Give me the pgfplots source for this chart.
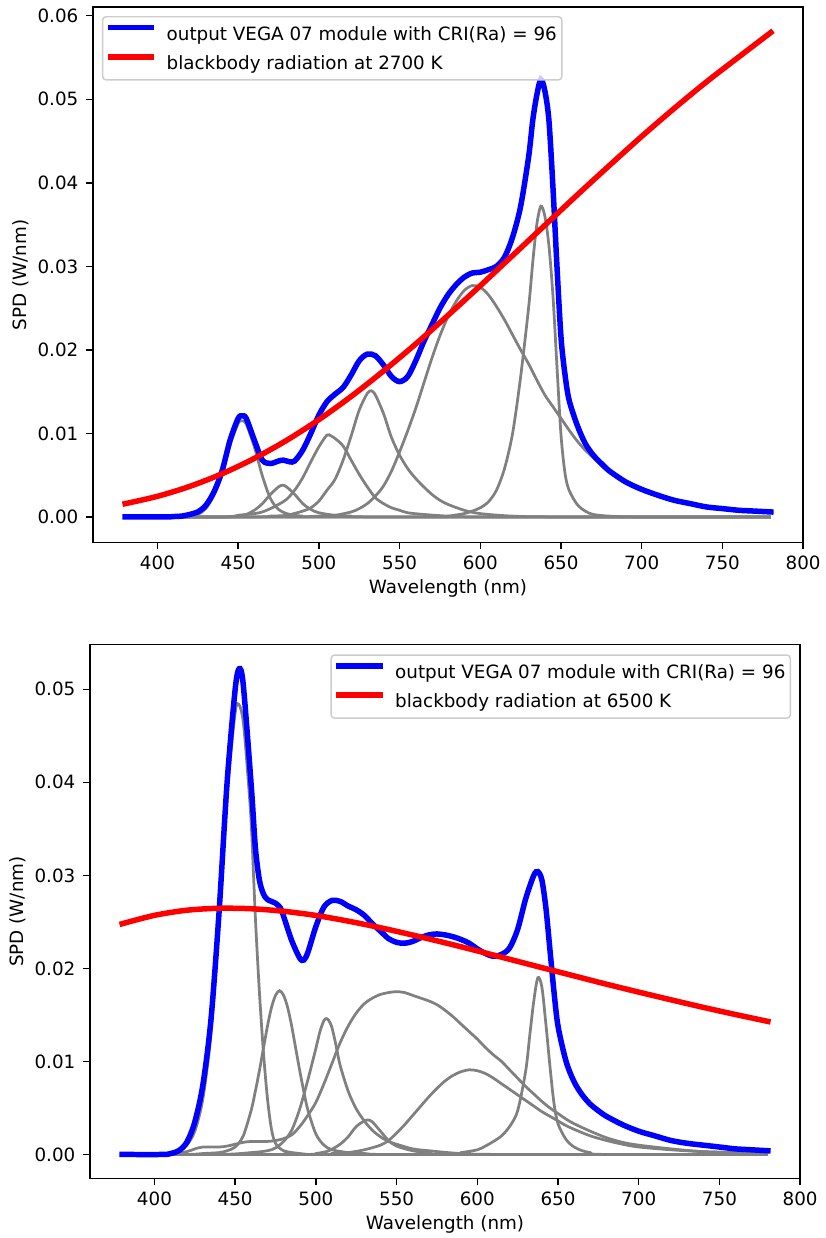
\documentclass[border=0pt]{standalone}
\usepackage{fontspec}
\setmainfont{DejaVu Sans}
\usepackage{pgfplots}
\pgfplotsset{compat=1.18}
\definecolor{mplblue}{RGB}{0,0,255}
\definecolor{mplred}{RGB}{255,0,0}
\definecolor{mplgray}{RGB}{128,128,128}
\pgfplotsset{
  spd/.style={
    scale only axis,
    width=511.92pt,
    xmin=360, xmax=800,
    xtick={400,450,500,550,600,650,700,750,800},
    tick pos=left,
    tick align=outside,
    major tick length=4.8pt,
    every tick/.style={black, line width=1.05pt},
    axis line style={line width=1.05pt},
    tick label style={font=\fontsize{13.2}{15}\selectfont},
    xticklabel style={inner ysep=4.6pt},
    yticklabel style={inner xsep=5.5pt, /pgf/number format/.cd, fixed, fixed zerofill, precision=2},
    /pgf/number format/assume math mode=true,
    scaled y ticks=false,
    xlabel={Wavelength (nm)},
    ylabel={SPD (W/nm)},
    every axis x label/.style={at={(axis description cs:0.5,0)}, anchor=center, yshift=-33pt, font=\fontsize{13.2}{15}\selectfont},
    every axis y label/.style={at={(axis description cs:0,0.5)}, anchor=center, xshift=-52pt, rotate=90, font=\fontsize{13.2}{15}\selectfont},
    legend cell align=left,
    legend image code/.code={\draw[#1] (0pt,4.8pt) -- (29.5pt,4.8pt);},
    legend style={
      draw=black!20, line width=1.05pt, rounded corners=2.5pt,
      fill=white, fill opacity=0.8, text opacity=1,
      inner xsep=3.6pt, inner ysep=5.9pt,
      row sep=8.26pt, column sep=9.1pt,
      font=\fontsize{13.2}{15}\selectfont,
      nodes={inner sep=0pt, text height=10.4pt, text depth=1.5pt},
    },
  },
  comp/.style={mplgray, line width=1.98pt, smooth, forget plot},
  spdline/.style={line width=3.96pt, smooth, line cap=rect},
}
\begin{document}
\begin{tikzpicture}
\path (0,0) rectangle (593.28pt,-891.36pt);
% ---------------- top: 2700 K ----------------
\begin{axis}[spd, at={(66.96pt,-390.96pt)}, anchor=south west, height=385.92pt,
  ymin=-0.00305, ymax=0.06105, ytick={0,0.01,0.02,0.03,0.04,0.05,0.06},
  legend style={at={(0,1)}, anchor=north west, xshift=6.5pt, yshift=-6.5pt}]
\addplot[comp] coordinates {(380,0) (410,0) (420,0.0001) (425,0.0003) (430,0.0010) (435,0.0026) (440,0.0050) (445,0.0086) (450,0.0112) (452.5,0.0115) (455,0.0111) (460,0.0084) (465,0.0049) (470,0.0022) (475,0.0009) (480,0.0004) (485,0.0002) (490,0.0001) (500,0) (780,0)};
\addplot[comp] coordinates {(380,0) (440,0) (450,0.0001) (455,0.0003) (460,0.0008) (465,0.0016) (470,0.0027) (475,0.0036) (477.5,0.0038) (480,0.0036) (485,0.0027) (490,0.0016) (495,0.0009) (500,0.0005) (510,0.0002) (520,0.0001) (540,0) (780,0)};
\addplot[comp] coordinates {(380,0) (440,0) (450,0.0002) (460,0.0004) (465,0.0006) (470,0.0010) (475,0.0015) (480,0.0021) (485,0.0032) (490,0.0047) (495,0.0066) (500,0.0084) (505,0.0098) (507.5,0.0097) (510,0.0094) (515,0.0085) (520,0.0068) (525,0.0051) (530,0.0036) (535,0.0023) (540,0.0016) (545,0.0011) (550,0.0008) (555,0.0005) (565,0.0003) (580,0.0001) (600,0) (780,0)};
\addplot[comp] coordinates {(380,0) (460,0) (470,0.0001) (480,0.0002) (490,0.0007) (495,0.0011) (500,0.0019) (505,0.0032) (510,0.0045) (515,0.0068) (520,0.0097) (525,0.0128) (530,0.0148) (532.5,0.0151) (535,0.0146) (540,0.0124) (545,0.0095) (550,0.0074) (555,0.0058) (560,0.0046) (565,0.0036) (570,0.0027) (575,0.0020) (580,0.0015) (590,0.0008) (600,0.0004) (620,0.0001) (650,0) (780,0)};
\addplot[comp] coordinates {(380,0) (480,0) (500,0.0001) (510,0.0002) (520,0.0006) (525,0.0010) (530,0.0016) (535,0.0025) (540,0.0037) (545,0.0055) (550,0.0078) (555,0.0103) (560,0.0130) (565,0.0160) (570,0.0190) (575,0.0217) (580,0.0240) (585,0.0258) (590,0.0271) (595,0.0277) (600,0.0275) (605,0.0266) (610,0.0252) (615,0.0236) (620,0.0218) (625,0.0200) (630,0.0183) (635,0.0164) (640,0.0146) (645,0.0132) (650,0.0118) (655,0.0104) (660,0.0091) (665,0.0080) (670,0.0071) (675,0.0062) (680,0.0054) (690,0.0041) (700,0.0032) (710,0.0025) (720,0.0019) (730,0.0015) (740,0.0012) (750,0.0009) (760,0.0007) (770,0.0006) (780,0.0005)};
\addplot[comp] coordinates {(380,0) (570,0) (580,0.0001) (590,0.0004) (595,0.0007) (600,0.0011) (605,0.0018) (610,0.0032) (615,0.0058) (620,0.0100) (625,0.0168) (630,0.0252) (632.5,0.0305) (635,0.0350) (637.5,0.0372) (640,0.0360) (642.5,0.0325) (645,0.0265) (647.5,0.0180) (650,0.0098) (652.5,0.0052) (655,0.0032) (660,0.0015) (665,0.0007) (670,0.0003) (680,0.0001) (700,0) (780,0)};
\addplot[spdline, mplblue] coordinates {(380,0) (405,0) (410,0.00005) (415,0.0001) (420,0.0003) (425,0.0006) (430,0.0014) (435,0.0030) (440,0.0055) (445,0.0092) (450,0.0118) (452.5,0.0121) (455,0.0118) (460,0.0092) (465,0.0068) (470,0.0064) (475,0.0067) (478,0.0068) (482,0.0066) (485,0.0067) (490,0.0080) (495,0.0100) (500,0.0122) (505,0.0138) (510,0.0147) (515,0.0155) (520,0.0170) (525,0.0187) (530,0.0195) (535,0.0193) (540,0.0182) (545,0.0168) (550,0.0162) (555,0.0168) (560,0.0187) (565,0.0210) (570,0.0230) (575,0.0250) (580,0.0266) (585,0.0278) (590,0.0287) (595,0.0292) (600,0.0293) (605,0.0296) (610,0.0300) (615,0.0311) (620,0.0335) (625,0.0372) (630,0.0432) (632.5,0.0475) (635,0.0505) (637.5,0.0524) (640,0.0510) (642.5,0.0475) (645,0.0395) (647.5,0.0300) (650,0.0215) (652.5,0.0170) (655,0.0140) (660,0.0110) (665,0.0088) (670,0.0074) (675,0.0064) (680,0.0055) (690,0.0042) (700,0.0033) (710,0.0026) (720,0.0020) (730,0.0016) (740,0.0012) (750,0.0010) (760,0.0008) (770,0.0007) (780,0.0006)};
\addlegendentry{output VEGA 07 module with CRI(Ra) = 96}
\addplot[spdline, mplred] coordinates {(380,0.00159) (400,0.00247) (420,0.00366) (440,0.00517) (460,0.00701) (480,0.00917) (500,0.01165) (520,0.01443) (540,0.01747) (560,0.02071) (580,0.02414) (600,0.02768) (620,0.03129) (640,0.03492) (660,0.03854) (680,0.04208) (700,0.04556) (720,0.04889) (740,0.05207) (760,0.05505) (780,0.05800)};
\addlegendentry{blackbody radiation at 2700 K}
\end{axis}
% ---------------- bottom: 6500 K ----------------
\begin{axis}[spd, at={(64.8pt,-849.6pt)}, anchor=south west, height=385.2pt,
  ymin=-0.00261, ymax=0.05483, ytick={0,0.01,0.02,0.03,0.04,0.05},
  legend style={at={(1,1)}, anchor=north east, xshift=-6.5pt, yshift=-7.2pt}]
\addplot[comp] coordinates {(380,0) (400,0) (410,0.0001) (415,0.0003) (420,0.0010) (425,0.0025) (430,0.0060) (435,0.0130) (440,0.0250) (445,0.0385) (450,0.0475) (452.5,0.0483) (455,0.0465) (457.5,0.0415) (460,0.0354) (462.5,0.0255) (465,0.0175) (467.5,0.0110) (470,0.0060) (472.5,0.0027) (475,0.0012) (480,0.0004) (490,0.0001) (500,0) (780,0)};
\addplot[comp] coordinates {(380,0) (420,0) (430,0.0001) (440,0.0002) (445,0.0004) (450,0.0008) (455,0.0020) (460,0.0048) (462.5,0.0068) (465,0.0090) (467.5,0.0114) (470,0.0138) (472.5,0.0158) (475,0.0171) (477.5,0.0176) (480,0.0171) (482.5,0.0158) (485,0.0138) (487.5,0.0114) (490,0.0090) (492.5,0.0068) (495,0.0048) (500,0.0022) (505,0.0010) (510,0.0005) (520,0.0002) (530,0.0001) (550,0) (780,0)};
\addplot[comp] coordinates {(380,0) (440,0) (460,0.0002) (470,0.0004) (475,0.0007) (480,0.0014) (485,0.0026) (490,0.0049) (495,0.0080) (500,0.0114) (502.5,0.0132) (505,0.0144) (506.5,0.0146) (508,0.0144) (510,0.0136) (512.5,0.0117) (515,0.0096) (520,0.0068) (525,0.0049) (530,0.0036) (535,0.0026) (540,0.0019) (545,0.0014) (550,0.0011) (560,0.0006) (570,0.0004) (590,0.0001) (620,0) (780,0)};
\addplot[comp] coordinates {(380,0) (490,0) (500,0.0001) (508,0.0004) (515,0.0011) (520,0.0019) (525,0.0030) (530,0.0036) (532.5,0.0037) (535,0.0035) (540,0.0025) (545,0.0015) (550,0.0009) (560,0.0004) (570,0.0002) (590,0) (780,0)};
\addplot[comp] coordinates {(380,0) (400,0) (410,0.0001) (420,0.0003) (425,0.0006) (430,0.0008) (440,0.0008) (445,0.0009) (450,0.0011) (455,0.0013) (460,0.0014) (470,0.0014) (475,0.0015) (480,0.0017) (485,0.0021) (490,0.0030) (495,0.0042) (500,0.0056) (505,0.0076) (510,0.0098) (515,0.0120) (520,0.0138) (525,0.0152) (530,0.0162) (535,0.0168) (540,0.0172) (545,0.0174) (550,0.0175) (555,0.0174) (560,0.0171) (565,0.0168) (570,0.0165) (575,0.0161) (580,0.0155) (585,0.0148) (590,0.0140) (595,0.0132) (600,0.0124) (605,0.0115) (610,0.0107) (615,0.0100) (620,0.0091) (625,0.0082) (630,0.0073) (635,0.0065) (640,0.0057) (645,0.0050) (650,0.0044) (655,0.0038) (660,0.0033) (670,0.0025) (680,0.0018) (690,0.0013) (700,0.0010) (720,0.0006) (740,0.0003) (760,0.0002) (780,0.0001)};
\addplot[comp] coordinates {(380,0) (500,0) (510,0.0001) (520,0.0002) (530,0.0005) (540,0.0010) (545,0.0015) (550,0.0023) (555,0.0032) (560,0.0042) (565,0.0052) (570,0.0062) (575,0.0071) (580,0.0079) (585,0.0085) (590,0.0089) (595,0.0091) (600,0.0090) (605,0.0087) (610,0.0082) (615,0.0076) (620,0.0070) (625,0.0064) (630,0.0058) (635,0.0052) (640,0.0046) (645,0.0041) (650,0.0036) (655,0.0031) (660,0.0027) (670,0.0020) (680,0.0015) (690,0.0011) (700,0.0008) (720,0.0005) (740,0.0003) (760,0.0002) (780,0.0001)};
\addplot[comp] coordinates {(380,0) (580,0) (590,0.0002) (600,0.0005) (605,0.0009) (610,0.0014) (615,0.0020) (620,0.0030) (625,0.0047) (630,0.0090) (632.5,0.0128) (635,0.0165) (637.5,0.0190) (640,0.0180) (642.5,0.0140) (645,0.0095) (647.5,0.0055) (650,0.0033) (655,0.0016) (660,0.0008) (665,0.0004) (670,0.0002) (680,0) (780,0)};
\addplot[spdline, mplblue] coordinates {(380,0) (405,0) (410,0.0001) (415,0.0004) (420,0.0013) (425,0.0035) (430,0.0075) (435,0.0145) (440,0.0260) (445,0.0400) (450,0.0500) (452.5,0.0522) (455,0.0505) (460,0.0395) (462.5,0.0330) (465,0.0295) (467.5,0.0280) (470,0.0274) (475,0.0270) (478,0.0265) (480,0.0256) (485,0.0230) (490,0.0211) (492.5,0.0209) (495,0.0217) (500,0.0245) (505,0.0266) (510,0.0273) (515,0.0272) (520,0.0267) (525,0.0263) (530,0.0257) (535,0.0248) (540,0.0240) (545,0.0232) (550,0.0228) (555,0.0227) (560,0.0229) (565,0.0233) (570,0.0236) (575,0.0237) (580,0.0236) (585,0.0234) (590,0.0231) (595,0.0227) (600,0.0221) (605,0.0216) (610,0.0213) (615,0.0215) (620,0.0222) (625,0.0242) (630,0.0275) (635,0.0300) (637.5,0.0304) (640,0.0295) (642.5,0.0265) (645,0.0220) (647.5,0.0175) (650,0.0138) (655,0.0100) (660,0.0078) (665,0.0064) (670,0.0054) (675,0.0047) (680,0.0041) (690,0.0032) (700,0.0025) (710,0.0020) (720,0.0015) (730,0.0012) (740,0.0010) (750,0.0008) (760,0.0006) (770,0.0005) (780,0.0004)};
\addlegendentry{output VEGA 07 module with CRI(Ra) = 96}
\addplot[spdline, mplred] coordinates {(380,0.0248) (400,0.0257) (420,0.02625) (440,0.02646) (460,0.02641) (480,0.02614) (500,0.02569) (520,0.02508) (540,0.02437) (560,0.02358) (580,0.02275) (600,0.02188) (620,0.02098) (640,0.02008) (660,0.01919) (680,0.01830) (700,0.01745) (720,0.01662) (740,0.01581) (760,0.01504) (780,0.0143)};
\addlegendentry{blackbody radiation at 6500 K}
\end{axis}
\end{tikzpicture}
\end{document}
